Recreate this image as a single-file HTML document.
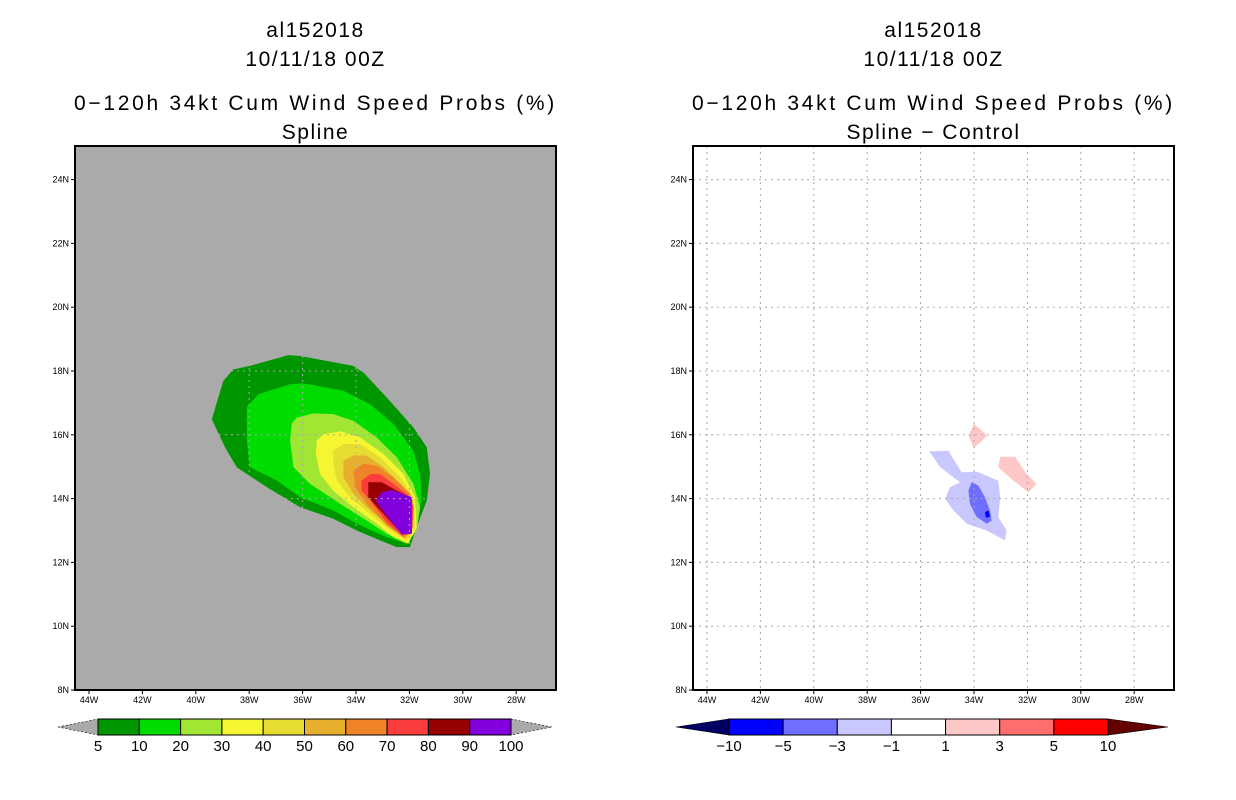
<!DOCTYPE html>
<html><head><meta charset="utf-8"><style>
body{margin:0;background:#fff;width:1236px;height:800px;overflow:hidden}
svg{display:block}
text{font-family:"Liberation Sans",sans-serif;fill:#000}
</style></head><body>
<svg id="root" width="1236" height="800" xmlns="http://www.w3.org/2000/svg"></svg>
<script>
const lonTicks=[-44,-42,-40,-38,-36,-34,-32,-30,-28];
const latTicks=[8,10,12,14,16,18,20,22,24];
const leftLevels=["5","10","20","30","40","50","60","70","80","90","100"];
const leftColors=["#009600","#00dc00","#a0e632","#f5f532","#e6dc32","#e6af2d","#f08228","#fa3c3c","#960000","#8200dc"];
const rightLevels=["-10","-5","-3","-1","1","3","5","10"];
const rightColors=["#0000ff","#6e6eff","#c8c8ff","#ffffff","#ffc8c8","#ff6e6e","#ff0000"];
// left contours [lon,lat]
const p05=[[-39.40,16.49],[-38.97,17.69],[-38.59,18.05],[-37.97,18.16],[-36.53,18.50],[-36.09,18.47],[-34.10,18.16],[-33.72,17.95],[-32.85,17.17],[-31.85,16.23],[-31.35,15.61],[-31.23,14.77],[-31.35,13.94],[-31.73,13.11],[-31.98,12.48],[-32.47,12.48],[-33.10,12.69],[-33.97,13.0],[-34.85,13.37],[-36.09,13.73],[-37.34,14.36],[-38.47,14.98],[-38.9,15.6]];
const p10=[[-38.09,16.86],[-37.66,17.27],[-36.47,17.59],[-35.97,17.61],[-34.47,17.38],[-33.47,16.96],[-32.60,16.34],[-31.85,15.50],[-31.60,14.77],[-31.54,13.94],[-31.85,13.11],[-32.10,12.59],[-32.85,12.79],[-33.97,13.21],[-34.85,13.63],[-36.09,14.04],[-36.97,14.57],[-37.97,14.98],[-38.09,15.82]];
const p20=[[-36.41,16.34],[-36.22,16.54],[-35.60,16.67],[-34.85,16.65],[-34.10,16.44],[-33.22,15.92],[-32.47,15.29],[-31.85,14.46],[-31.60,13.73],[-31.73,13.0],[-32.10,12.59],[-32.85,12.90],[-33.60,13.31],[-34.60,13.84],[-35.72,14.46],[-36.34,14.98],[-36.47,15.82]];
const p30=[[-35.47,15.82],[-35.22,16.02],[-34.60,16.11],[-33.85,15.92],[-32.97,15.40],[-32.22,14.77],[-31.79,14.04],[-31.73,13.11],[-32.04,12.59],[-32.60,12.79],[-33.22,13.21],[-34.10,13.73],[-34.85,14.25],[-35.35,14.77],[-35.50,15.40]];
const p40=[[-34.85,15.50],[-34.47,15.71],[-33.85,15.71],[-33.10,15.29],[-32.35,14.67],[-31.85,14.04],[-31.79,13.11],[-32.10,12.69],[-32.72,13.0],[-33.47,13.52],[-34.22,14.04],[-34.72,14.56],[-34.85,15.09]];
const p50=[[-34.47,15.19],[-34.10,15.35],[-33.60,15.35],[-32.97,14.98],[-32.22,14.36],[-31.85,13.94],[-31.85,13.11],[-32.16,12.74],[-32.72,13.11],[-33.47,13.63],[-34.10,14.15],[-34.47,14.67]];
const p60=[[-34.10,14.88],[-33.72,15.09],[-33.22,15.03],[-32.60,14.67],[-31.97,14.15],[-31.85,13.73],[-31.91,12.95],[-32.22,12.79],[-32.85,13.16],[-33.60,13.84],[-34.04,14.36]];
const p70=[[-33.79,14.56],[-33.47,14.77],[-33.10,14.77],[-32.60,14.46],[-32.04,14.10],[-31.85,13.73],[-31.91,12.90],[-32.29,12.85],[-32.85,13.26],[-33.47,13.94],[-33.79,14.25]];
const p80=[[-33.54,14.51],[-33.04,14.51],[-32.47,14.25],[-31.97,14.04],[-31.91,12.95],[-32.29,12.90],[-32.97,13.52],[-33.54,14.04]];
const p90=[[-33.04,14.20],[-32.66,14.27],[-31.91,14.04],[-31.91,12.90],[-32.29,12.88],[-32.91,13.52],[-33.25,13.92]];
// right difference contours
const nLight=[[-35.67,15.48],[-34.96,15.50],[-34.46,14.82],[-33.90,14.85],[-33.09,14.56],[-33.02,14.04],[-33.09,13.42],[-32.78,13.0],[-32.84,12.69],[-33.52,13.0],[-34.27,13.21],[-34.77,13.63],[-35.08,13.99],[-34.90,14.35],[-34.52,14.51],[-35.27,14.98]];
const nMid=[[-34.09,14.51],[-33.84,14.41],[-33.59,14.04],[-33.40,13.63],[-33.34,13.31],[-33.52,13.21],[-33.90,13.42],[-34.15,13.83],[-34.21,14.25]];
const nDark=[[-33.59,13.57],[-33.46,13.63],[-33.40,13.44],[-33.55,13.40]];
const pos1=[[-34.0,16.35],[-33.50,15.97],[-34.0,15.58],[-34.21,15.97]];
const pos2=[[-33.02,15.31],[-32.46,15.31],[-32.03,14.77],[-31.65,14.46],[-31.96,14.20],[-32.52,14.56],[-33.09,14.98]];

const NS="http://www.w3.org/2000/svg";
const root=document.getElementById('root');
function el(tag,attrs,parent,txt){const e=document.createElementNS(NS,tag);for(const k in attrs)e.setAttribute(k,attrs[k]);if(txt!==undefined)e.textContent=txt;(parent||root).appendChild(e);return e;}

function panel(ox,bg,title2,polys,gridColor){
  const x0=ox,x1=ox+481,y0=146,y1=690;
  const X=lon=>ox+14+(lon+44)*26.7;
  const Y=lat=>690-(lat-8)*31.9;
  const g=el('g',{});
  
  
  const cx=(x0+x1)/2;
  let t=el('text',{x:cx,y:37,'font-size':21,'text-anchor':'middle','letter-spacing':'1.5'},g,'al152018');
  
  t=el('text',{x:cx,y:66,'font-size':21,'text-anchor':'middle','letter-spacing':'1.5'},g,'10/11/18 00Z');
  
  t=el('text',{x:cx,y:110,'font-size':21,'text-anchor':'middle','letter-spacing':'2.7'},g,'0\u2212120h 34kt Cum Wind Speed Probs (%)');
  
  t=el('text',{x:cx,y:139,'font-size':21,'text-anchor':'middle','letter-spacing':'1.5'},g,title2);
  
  const r=el('rect',{x:x0,y:y0,width:x1-x0,height:y1-y0,fill:bg},g);
  
  polys.forEach(([pts,col,name])=>{
    const p=el('polygon',{points:pts.map(q=>X(q[0]).toFixed(1)+','+Y(q[1]).toFixed(1)).join(' '),fill:col},g);
    
    
  });
  lonTicks.forEach(l=>{
    const ln=el('line',{x1:X(l),x2:X(l),y1:y0,y2:y1,stroke:gridColor,'stroke-dasharray':'2,4'},g);
    
    const tk=el('line',{x1:X(l),x2:X(l),y1:y1,y2:y1+4,stroke:'#000'},g);
    
    const tx=el('text',{x:X(l),y:y1+13,'font-size':9,'text-anchor':'middle'},g,Math.abs(l)+'W');
    
  });
  latTicks.forEach(l=>{
    if(l>8){const ln=el('line',{x1:x0,x2:x1,y1:Y(l),y2:Y(l),stroke:gridColor,'stroke-dasharray':'2,4'},g);
    }
    const tk=el('line',{x1:x0-4,x2:x0,y1:Y(l),y2:Y(l),stroke:'#000'},g);
    
    const tx=el('text',{x:x0-6,y:Y(l)+3,'font-size':9,'text-anchor':'end'},g,l+'N');
    
  });
  const fr=el('rect',{x:x0,y:y0,width:x1-x0,height:y1-y0,fill:'none',stroke:'#000','stroke-width':2},g);
  
}

panel(75,'#aaaaaa','Spline',[
 [p05,leftColors[0],'contour-5'],[p10,leftColors[1],'contour-10'],[p20,leftColors[2],'contour-20'],
 [p30,leftColors[3],'contour-30'],[p40,leftColors[4],'contour-40'],[p50,leftColors[5],'contour-50'],
 [p60,leftColors[6],'contour-60'],[p70,leftColors[7],'contour-70'],[p80,leftColors[8],'contour-80'],[p90,leftColors[9],'contour-90']
],'#aaaaaa');
panel(693,'#fff','Spline \u2212 Control',[
 [nLight,rightColors[2],'contour-neg-1'],[nMid,rightColors[1],'contour-neg-3'],[nDark,rightColors[0],'contour-neg-5'],
 [pos1,rightColors[4],'contour-pos-1a'],[pos2,rightColors[4],'contour-pos-1b']
],'#aaaaaa');

function colorbar(x0,x1,tipL,tipR,colors,labels,lc,rc,name){
  const g=el('g',{});
  
  
  const y0=719,y1=735,ym=727,n=colors.length,w=(x1-x0)/n;
  const a=el('polygon',{points:`${tipL},${ym} ${x0},${y0} ${x0},${y1}`,fill:lc,stroke:'#000','stroke-width':0.6,'stroke-dasharray':lc==='#aaaaaa'?'2,2':''},g);
  
  const b=el('polygon',{points:`${tipR},${ym} ${x1},${y0} ${x1},${y1}`,fill:rc,stroke:'#000','stroke-width':0.6,'stroke-dasharray':rc==='#aaaaaa'?'2,2':''},g);
  
  colors.forEach((c,i)=>{
    const r=el('rect',{x:x0+i*w,y:y0,width:w,height:y1-y0,fill:c,stroke:'#000','stroke-width':1},g);
    
  });
  labels.forEach((l,i)=>{
    const t=el('text',{x:x0+i*w,y:751,'font-size':15,'text-anchor':'middle'},g,l.replace('-','\u2212'));
    
  });
}
colorbar(98,511,58,552,leftColors,leftLevels,'#aaaaaa','#aaaaaa','probability-colorbar');
colorbar(729,1108,676,1168,rightColors,rightLevels,'#000064','#640000','difference-colorbar');
</script>
</body></html>
